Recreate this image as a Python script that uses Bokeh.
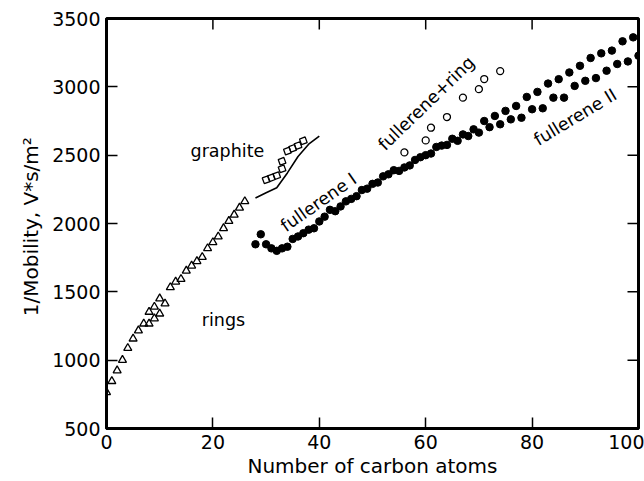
from bokeh.plotting import figure
from bokeh.models import FixedTicker, Range1d
from bokeh.core.properties import value
from bokeh.embed import file_html
from bokeh.resources import INLINE
import math

# ---- data ----
rings_n = [0, 1, 2, 3, 4, 5, 6, 7, 8, 8, 9, 9, 10, 10, 11, 12, 13, 14, 15, 16,
           17, 18, 19, 20, 21, 22, 23, 24, 25, 26]
rings_v = [765, 846, 924, 1001, 1088, 1157, 1217, 1267, 1267, 1353, 1305, 1390,
           1340, 1451, 1414, 1533, 1574, 1593, 1654, 1691, 1724, 1754, 1818,
           1862, 1904, 1965, 2018, 2064, 2115, 2162]

graphite_n = [30, 31, 32, 33, 33, 34, 35, 36, 37]
graphite_v = [2320, 2335, 2350, 2400, 2455, 2530, 2550, 2570, 2605]

graphite_fit_n = [28, 30, 32, 34, 36, 38, 40]
graphite_fit_v = [2186, 2225, 2262, 2370, 2490, 2580, 2640]

fullerene1_n = [29, 31, 33, 35, 37, 39, 41, 43, 45, 47, 49, 51, 53, 55, 57, 59,
                61, 63, 65, 67, 69, 71, 73, 75, 77, 79, 81, 83, 85, 87, 89, 91,
                93, 95, 97, 99]
fullerene1_v = [1921, 1818, 1818, 1887, 1929, 1965, 2050, 2090, 2162, 2200,
                2255, 2300, 2360, 2385, 2425, 2485, 2512, 2570, 2620, 2652,
                2689, 2750, 2787, 2824, 2860, 2926, 2963, 3024, 3056, 3105,
                3154, 3211, 3245, 3265, 3333, 3362]

fullerene2_n = [28, 30, 32, 34, 36, 38, 40, 42, 44, 46, 48, 50, 52, 54, 56, 58,
                60, 62, 64, 66, 68, 70, 72, 74, 76, 78, 80, 82, 84, 86, 88, 90,
                92, 94, 96, 98, 100]
fullerene2_v = [1848, 1848, 1800, 1830, 1905, 1955, 2015, 2100, 2125, 2180,
                2245, 2290, 2345, 2390, 2410, 2465, 2500, 2560, 2575, 2605,
                2640, 2665, 2705, 2726, 2762, 2774, 2836, 2843, 2921, 2921,
                3007, 3044, 3064, 3118, 3167, 3186, 3228]

fring_n = [56, 60, 61, 64, 67, 70, 71, 74]
fring_v = [2520, 2608, 2701, 2779, 2921, 2983, 3057, 3115]

x_ticks = [0, 20, 40, 60, 80, 100]
y_ticks = [500, 1000, 1500, 2000, 2500, 3000, 3500]

X0, X1, Y0, Y1 = 0, 100, 500, 3500
FONT = "DejaVu Sans"

p = figure(width=644, height=481, x_range=Range1d(X0, X1), y_range=Range1d(Y0, Y1),
           output_backend="svg", toolbar_location=None,
           min_border_left=106, min_border_right=6, min_border_top=18,
           min_border_bottom=53)
p.background_fill_color = "white"
p.border_fill_color = "white"
p.outline_line_color = "black"
p.outline_line_width = 3
p.grid.visible = False

p.xaxis.ticker = FixedTicker(ticks=x_ticks)
p.yaxis.ticker = FixedTicker(ticks=y_ticks)
p.xaxis.axis_label = "Number of carbon atoms"
p.yaxis.axis_label = "1/Mobility,  V*s/m\u00b2"

for ax in list(p.xaxis) + list(p.yaxis):
    ax.axis_line_color = "black"
    ax.axis_line_width = 3
    ax.major_tick_in = 11
    ax.major_tick_out = 0
    ax.major_tick_line_width = 1.5
    ax.major_tick_line_color = "black"
    ax.minor_tick_line_color = None
    ax.major_label_text_font = FONT
    ax.major_label_text_font_size = "19px"
    ax.major_label_text_color = "black"
    ax.major_label_standoff = 6
    ax.axis_label_text_font = FONT
    ax.axis_label_text_font_size = "20px"
    ax.axis_label_text_font_style = "normal"
    ax.axis_label_text_color = "black"
    ax.axis_label_standoff = 2
p.yaxis.axis_label_standoff = 6

# inward ticks on the right and top edges of the frame (clipped to frame)
p.scatter([X1] * len(y_ticks), y_ticks, marker="dash", size=22,
          line_color="black", line_width=1.5)
p.scatter(x_ticks, [Y1] * len(x_ticks), marker="dash", size=22, angle=math.pi / 2,
          line_color="black", line_width=1.5)

# data marks
p.scatter(rings_n, rings_v, marker="triangle", size=8, fill_color=None,
          line_color="black", line_width=1.3)
p.line(graphite_fit_n, graphite_fit_v, line_color="black", line_width=1.6)
p.scatter(graphite_n, graphite_v, marker="square", size=6, angle=0.35,
          fill_color=None, line_color="black", line_width=1.3)
p.scatter(fullerene1_n, fullerene1_v, marker="circle", size=7.5,
          fill_color="black", line_color="black")
p.scatter(fullerene2_n, fullerene2_v, marker="circle", size=7.5,
          fill_color="black", line_color="black")
p.scatter(fring_n, fring_v, marker="circle", size=7, fill_color=None,
          line_color="black", line_width=1.3)

# labels
labels = [
    ("rings", 17.9, 1294, 0, "middle"),
    ("graphite", 15.8, 2529, 0, "middle"),
    ("fullerene  I", 33.1, 1971, 35, "alphabetic"),
    ("fullerene+ring", 51.6, 2559, 44, "alphabetic"),
    ("fullerene  II", 80.6, 2603, 31, "alphabetic"),
]
for t, x, y, a, b in labels:
    p.text(x=[x], y=[y], text=[t], angle=math.radians(a), text_font=value(FONT),
           text_font_size="17.5px", text_align="left", text_baseline=b,
           text_color="black")

open("out.html", "w").write(file_html(p, INLINE))
